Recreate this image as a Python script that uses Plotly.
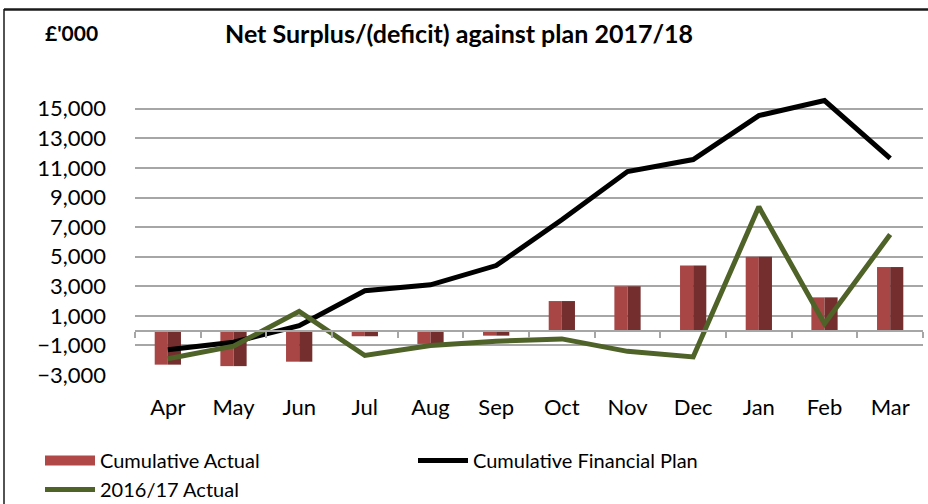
import plotly.graph_objects as go

months = ["Apr", "May", "Jun", "Jul", "Aug", "Sep", "Oct", "Nov", "Dec", "Jan", "Feb", "Mar"]
cumulative_actual = [-2300, -2400, -2100, -380, -900, -340, 2000, 3000, 4400, 5000, 2250, 4300]
cumulative_plan = [-1290, -780, 340, 2700, 3100, 4400, 7500, 10760, 11570, 14540, 15560, 11640]
actual_2016_17 = [-1900, -1050, 1300, -1680, -1000, -720, -560, -1400, -1780, 8370, 470, 6500]
y_ticks = [-3000, -1000, 1000, 3000, 5000, 7000, 9000, 11000, 13000, 15000]

FONT = "Lato"
y_min, y_max = -3000, 16000

fig = go.Figure()

# bevel-like bars: lighter left half and darker right half
fig.add_trace(go.Bar(
    x=months, y=cumulative_actual, name="Cumulative Actual", showlegend=False,
    width=0.2, offset=-0.2, marker=dict(color="#A84646", line=dict(width=0)),
    hoverinfo="x+y",
))
fig.add_trace(go.Bar(
    x=months, y=cumulative_actual, name="Cumulative Actual", showlegend=False,
    width=0.2, offset=0.0, marker=dict(color="#742E2E", line=dict(width=0)),
    hoverinfo="skip",
))
# legend-only entry with a wide bar-like swatch
fig.add_trace(go.Scatter(
    x=[None], y=[None], name="Cumulative Actual", mode="lines",
    line=dict(color="#B04848", width=10), legendrank=1,
))
fig.add_trace(go.Scatter(
    x=months, y=cumulative_plan, name="Cumulative Financial Plan", mode="lines",
    line=dict(color="#000000", width=5), legendrank=2,
))
fig.add_trace(go.Scatter(
    x=months, y=actual_2016_17, name="2016/17 Actual", mode="lines",
    line=dict(color="#4F6228", width=5), legendrank=3,
))
# invisible trace to drive the category axis drawn at zero
fig.add_trace(go.Scatter(
    x=months, y=cumulative_actual, xaxis="x2", mode="markers",
    marker=dict(opacity=0), showlegend=False, hoverinfo="skip",
))

zero_pos = (0 - y_min) / (y_max - y_min)

# chart area in pixels
L, R, T, B = 135, 5, 94, 129
W, H = 928, 504
pw, ph = W - L - R, H - T - B

def px_x(x):
    return (x - L) / pw

def px_y(y):
    return (H - B - y) / ph

fig.update_layout(
    width=W, height=H,
    margin=dict(l=L, r=R, t=T, b=B, pad=0, autoexpand=False),
    paper_bgcolor="white", plot_bgcolor="white",
    barmode="overlay",
    font=dict(family=FONT, color="#000000", size=22),
    showlegend=True,
    legend=dict(
        orientation="h", x=px_x(40), y=px_y(441), xanchor="left", yanchor="top",
        entrywidth=308, entrywidthmode="pixels", traceorder="normal",
        font=dict(family=FONT, size=20), itemwidth=50, tracegroupgap=0,
        bgcolor="rgba(0,0,0,0)",
    ),
    xaxis=dict(
        type="category", categoryorder="array", categoryarray=months,
        showline=False, showgrid=False, ticks="", zeroline=False, automargin=False,
        tickfont=dict(family=FONT, size=22), ticklabelstandoff=17,
        range=[-0.5, 11.5],
    ),
    xaxis2=dict(
        type="category", categoryorder="array", categoryarray=months,
        overlaying="x", anchor="free", position=zero_pos, side="bottom",
        showline=True, linecolor="#A6A6A6", linewidth=2, automargin=False,
        ticks="outside", ticklen=6, tickwidth=1.5, tickcolor="#A6A6A6",
        tickson="boundaries", showticklabels=False, showgrid=False,
        range=[-0.5, 11.5],
    ),
    yaxis=dict(
        range=[y_min, y_max], tickvals=y_ticks, tickformat=",",
        showgrid=True, gridcolor="#A6A6A6", gridwidth=1.5, automargin=False,
        zeroline=False, showline=False, ticks="",
        tickfont=dict(family=FONT, size=22), ticklabelstandoff=28,
    ),
    annotations=[
        dict(text="<b>£'000</b>", xref="paper", yref="paper", x=px_x(43), y=px_y(33),
             xanchor="left", yanchor="middle", showarrow=False,
             font=dict(family=FONT, size=21, color="#000000")),
        dict(text="<b>Net Surplus/(deficit) against plan 2017/18</b>", xref="paper", yref="paper",
             x=px_x(459), y=px_y(33), xanchor="center", yanchor="middle", showarrow=False,
             font=dict(family=FONT, size=25, color="#000000")),
    ],
    shapes=[
        dict(type="line", xref="paper", yref="paper", x0=px_x(4), x1=px_x(928),
             y0=px_y(9.5), y1=px_y(9.5), line=dict(color="#1A1A1A", width=2.5)),
        dict(type="line", xref="paper", yref="paper", x0=px_x(4), x1=px_x(4),
             y0=px_y(9), y1=px_y(504), line=dict(color="#1A1A1A", width=1.5)),
    ],
)

fig.write_html("out.html")
